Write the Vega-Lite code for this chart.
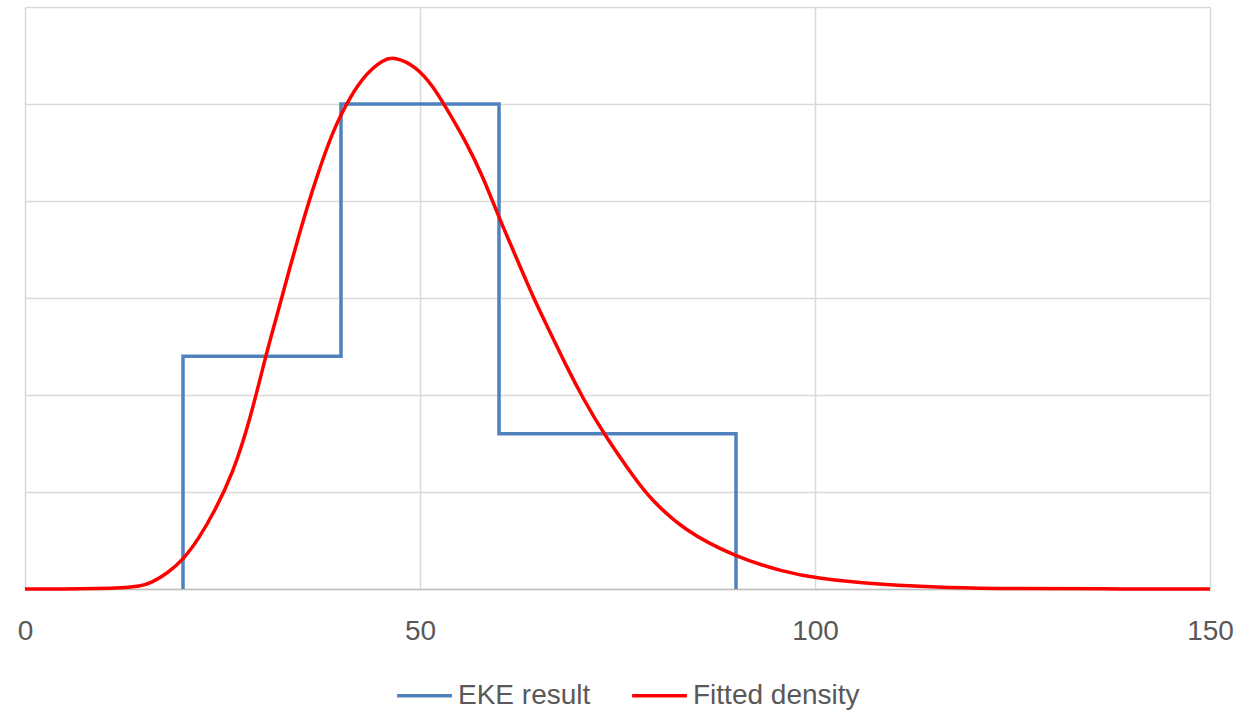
{
  "$schema": "https://vega.github.io/schema/vega-lite/v6.json",
  "width": 1185,
  "height": 582,
  "autosize": {"type": "none"},
  "padding": {"left": 25, "top": 7, "right": 31, "bottom": 125},
  "background": "white",
  "config": {
    "view": {"stroke": null},
    "font": "Liberation Sans"
  },
  "datasets": {
    "eke": [
      {"i": 1, "x": 20, "y": 0, "series": "EKE result"},
      {"i": 2, "x": 20, "y": 0.012, "series": "EKE result"},
      {"i": 3, "x": 40, "y": 0.012, "series": "EKE result"},
      {"i": 4, "x": 40, "y": 0.025, "series": "EKE result"},
      {"i": 5, "x": 60, "y": 0.025, "series": "EKE result"},
      {"i": 6, "x": 60, "y": 0.008, "series": "EKE result"},
      {"i": 7, "x": 90, "y": 0.008, "series": "EKE result"},
      {"i": 8, "x": 90, "y": 0, "series": "EKE result"}
    ],
    "fit": [
      {"x": 0, "y": 0, "series": "Fitted density"},
      {"x": 5, "y": 0, "series": "Fitted density"},
      {"x": 9.5, "y": 0.00002, "series": "Fitted density"},
      {"x": 12, "y": 0.00005, "series": "Fitted density"},
      {"x": 14.6, "y": 0.00014, "series": "Fitted density"},
      {"x": 16, "y": 0.00032, "series": "Fitted density"},
      {"x": 18, "y": 0.0008, "series": "Fitted density"},
      {"x": 20, "y": 0.0015, "series": "Fitted density"},
      {"x": 22, "y": 0.0026, "series": "Fitted density"},
      {"x": 24, "y": 0.0040, "series": "Fitted density"},
      {"x": 26.33, "y": 0.00598, "series": "Fitted density"},
      {"x": 28.48, "y": 0.00871, "series": "Fitted density"},
      {"x": 30.47, "y": 0.01201, "series": "Fitted density"},
      {"x": 31.39, "y": 0.01335, "series": "Fitted density"},
      {"x": 34.81, "y": 0.0185, "series": "Fitted density"},
      {"x": 36.92, "y": 0.02125, "series": "Fitted density"},
      {"x": 38.99, "y": 0.02365, "series": "Fitted density"},
      {"x": 41.14, "y": 0.02538, "series": "Fitted density"},
      {"x": 43.25, "y": 0.0266, "series": "Fitted density"},
      {"x": 45.32, "y": 0.02728, "series": "Fitted density"},
      {"x": 46.75, "y": 0.02745, "series": "Fitted density"},
      {"x": 49.58, "y": 0.02692, "series": "Fitted density"},
      {"x": 51.65, "y": 0.0259, "series": "Fitted density"},
      {"x": 52.95, "y": 0.02505, "series": "Fitted density"},
      {"x": 55.91, "y": 0.023, "series": "Fitted density"},
      {"x": 57.97, "y": 0.02125, "series": "Fitted density"},
      {"x": 60.1, "y": 0.01905, "series": "Fitted density"},
      {"x": 61.6, "y": 0.01765, "series": "Fitted density"},
      {"x": 64.3, "y": 0.01505, "series": "Fitted density"},
      {"x": 66.46, "y": 0.01325, "series": "Fitted density"},
      {"x": 68.57, "y": 0.01145, "series": "Fitted density"},
      {"x": 70.67, "y": 0.0098, "series": "Fitted density"},
      {"x": 73.2, "y": 0.00803, "series": "Fitted density"},
      {"x": 77.43, "y": 0.00555, "series": "Fitted density"},
      {"x": 79.1, "y": 0.00469, "series": "Fitted density"},
      {"x": 83.3, "y": 0.00304, "series": "Fitted density"},
      {"x": 90, "y": 0.00164, "series": "Fitted density"},
      {"x": 96, "y": 0.00089, "series": "Fitted density"},
      {"x": 100, "y": 0.00055, "series": "Fitted density"},
      {"x": 108.6, "y": 0.00021, "series": "Fitted density"},
      {"x": 117.1, "y": 0.000065, "series": "Fitted density"},
      {"x": 125, "y": 0.00002, "series": "Fitted density"},
      {"x": 136, "y": 0.000005, "series": "Fitted density"},
      {"x": 150, "y": 0, "series": "Fitted density"}
    ]
  },
  "encoding": {
    "x": {
      "field": "x",
      "type": "quantitative",
      "scale": {"domain": [0, 150], "nice": false, "zero": false},
      "axis": {
        "title": null,
        "values": [0, 50, 100, 150],
        "grid": true,
        "gridColor": "#D9D9D9",
        "gridWidth": 1.5,
        "ticks": false,
        "domain": true,
        "domainColor": "#BFBFBF",
        "domainWidth": 1.5,
        "labelFontSize": 28,
        "labelColor": "#595959",
        "labelPadding": 28,
        "labelFlush": false,
        "labelOverlap": false
      }
    },
    "y": {
      "field": "y",
      "type": "quantitative",
      "scale": {"domain": [0, 0.03], "nice": false},
      "axis": {
        "title": null,
        "values": [0, 0.005, 0.01, 0.015, 0.02, 0.025, 0.03],
        "grid": true,
        "gridColor": "#D9D9D9",
        "gridWidth": 1.5,
        "labels": false,
        "ticks": false,
        "domain": false
      }
    },
    "color": {
      "field": "series",
      "type": "nominal",
      "scale": {"domain": ["EKE result", "Fitted density"], "range": ["#4F81BD", "#FF0000"]},
      "legend": {
        "title": null,
        "orient": "none",
        "direction": "horizontal",
        "legendX": 370,
        "legendY": 659,
        "symbolType": "stroke",
        "symbolSize": 3000,
        "symbolStrokeWidth": 3.5,
        "labelFontSize": 28,
        "labelColor": "#595959",
        "labelOffset": 4,
        "columnPadding": 34,
        "labelLimit": 400
      }
    }
  },
  "layer": [
    {
      "data": {"name": "eke"},
      "mark": {"type": "line", "strokeWidth": 3.5, "strokeJoin": "miter", "strokeCap": "butt"},
      "encoding": {"order": {"field": "i", "type": "quantitative"}}
    },
    {
      "data": {"name": "fit"},
      "mark": {"type": "line", "strokeWidth": 3.5, "interpolate": "basis"},
      "encoding": {}
    }
  ]
}
